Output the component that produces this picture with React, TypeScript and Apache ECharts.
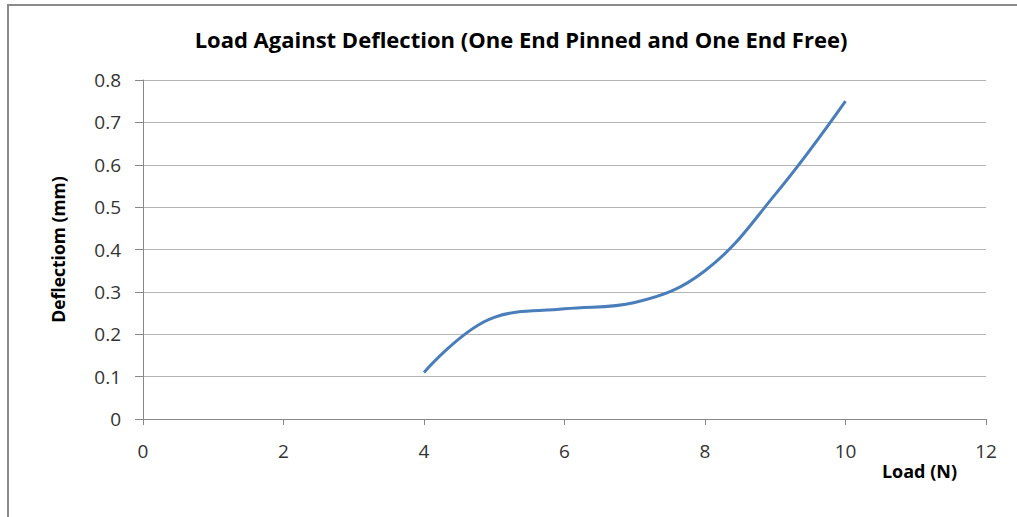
import React, { useEffect, useRef } from "react";
import * as echarts from "echarts";

const loads = [4, 5, 6, 7, 8, 9, 10];
const deflections = [0.11, 0.24, 0.26, 0.275, 0.35, 0.53, 0.75];
const xTicks = [0, 2, 4, 6, 8, 10, 12];
const yTicks = [0, 0.1, 0.2, 0.3, 0.4, 0.5, 0.6, 0.7, 0.8];

const FONT = "Open Sans";

export default function App() {
  const ref = useRef<HTMLDivElement>(null);
  useEffect(() => {
    if (!ref.current) return;
    const chart = echarts.init(ref.current, null, { renderer: "svg" });
    chart.setOption({
      animation: false,
      backgroundColor: "#ffffff",
      title: {
        text: "Load Against Deflection (One End Pinned and One End Free)",
        left: 516,
        top: 23,
        textAlign: "center",
        textStyle: { fontFamily: FONT, fontSize: 22, fontWeight: "bold", color: "#000" },
      },
      grid: { left: 143, right: 31, top: 80, bottom: 98, containLabel: false },
      xAxis: {
        type: "value",
        min: xTicks[0],
        max: xTicks[xTicks.length - 1],
        interval: 2,
        name: "Load (N)",
        nameLocation: "end",
        nameGap: -29,
        nameTextStyle: {
          fontFamily: FONT,
          fontSize: 18,
          fontWeight: "bold",
          color: "#000",
          align: "right",
          verticalAlign: "top",
          padding: [43, 0, 0, 0],
        },
        axisLine: { show: true, lineStyle: { color: "#888", width: 1 } },
        axisTick: { show: true, inside: false, length: 6, lineStyle: { color: "#888" } },
        axisLabel: { margin: 22, fontFamily: FONT, fontSize: 19, color: "#333" },
        splitLine: { show: false },
      },
      yAxis: {
        type: "value",
        min: yTicks[0],
        max: yTicks[yTicks.length - 1],
        interval: 0.1,
        name: "Deflectiom (mm)",
        nameLocation: "middle",
        nameGap: 76,
        nameTextStyle: { fontFamily: FONT, fontSize: 17.5, fontWeight: "bold", color: "#000" },
        axisLine: { show: true, lineStyle: { color: "#888", width: 1 } },
        axisTick: { show: true, inside: false, length: 8, lineStyle: { color: "#888" } },
        axisLabel: {
          margin: 22,
          fontFamily: FONT,
          fontSize: 19,
          color: "#333",
          formatter: (v: number) => String(Math.round(v * 10) / 10),
        },
        splitLine: { show: true, lineStyle: { color: "#b4b4b4", width: 1 } },
      },
      series: [
        {
          type: "line",
          data: loads.map((x, i) => [x, deflections[i]]),
          smooth: 0.4,
          showSymbol: false,
          lineStyle: { color: "#4a7ebb", width: 3 },
          itemStyle: { color: "#4a7ebb" },
        },
      ],
      graphic: [
        {
          type: "rect",
          shape: { x: 8, y: 5, width: 1030, height: 530 },
          style: { fill: "none", stroke: "#8a8a8a", lineWidth: 2 },
          silent: true,
        },
      ],
    });
    return () => chart.dispose();
  }, []);
  return (
    <div
      ref={ref}
      style={{ position: "fixed", left: 0, top: 0, width: 1017, height: 517 }}
    />
  );
}
